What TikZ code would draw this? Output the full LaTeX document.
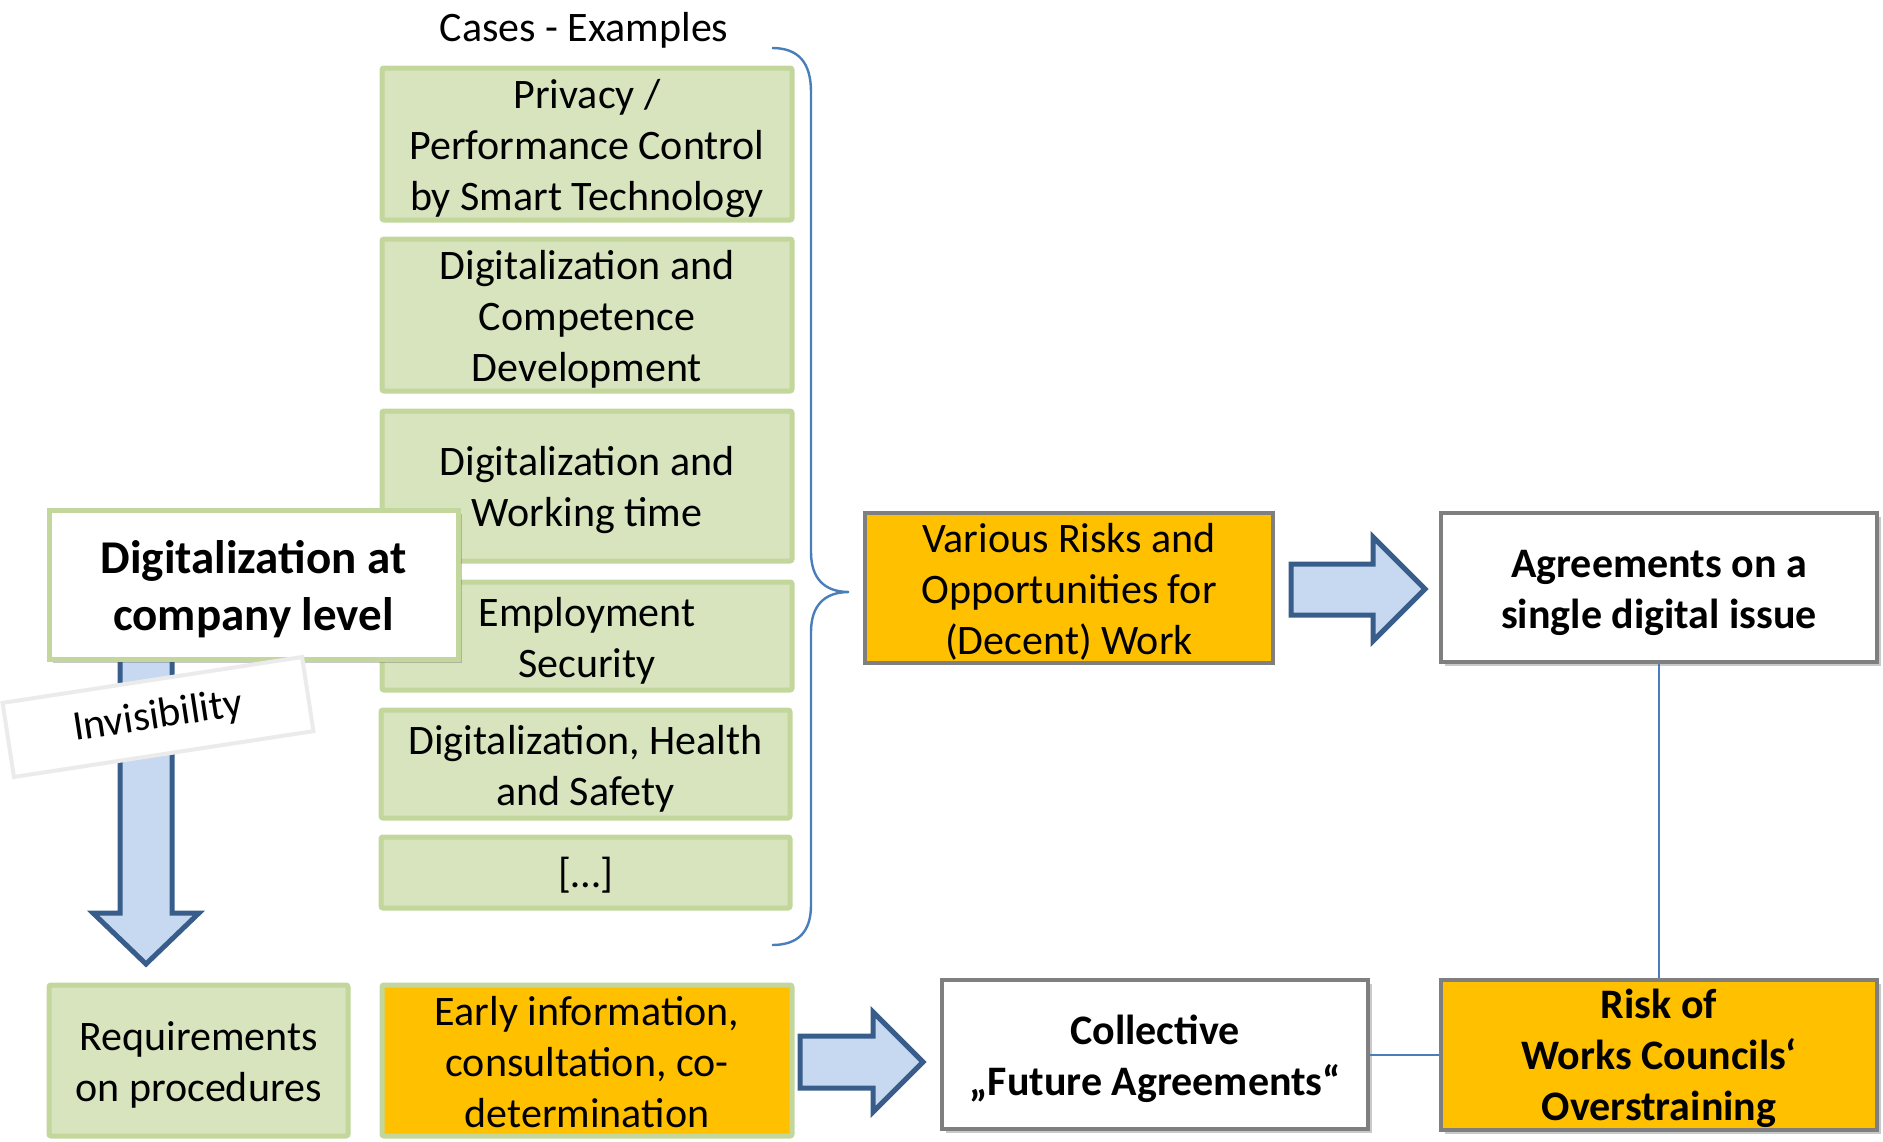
\documentclass[tikz,border=0pt]{standalone}
\usepackage{fontspec}
\setmainfont{Carlito}
\usetikzlibrary{shadows}
\definecolor{gfill}{HTML}{D7E4BD}
\definecolor{gline}{HTML}{C3D69B}
\definecolor{orng}{HTML}{FFC000}
\definecolor{grayline}{HTML}{7F7F7F}
\definecolor{afill}{HTML}{C6D9F1}
\definecolor{aline}{HTML}{385D8A}
\definecolor{bline}{HTML}{4A7EBB}
\definecolor{invline}{HTML}{EBEBEB}
\begin{document}
\begin{tikzpicture}[x=0.5pt,y=-0.5pt,
  sz/.style 2 args={minimum width=#1*0.5pt, minimum height=#2*0.5pt},
  txt/.style={font=\fontsize{21pt}{25.5pt}\selectfont, align=center, inner sep=0pt},
  btxt/.style={font=\fontsize{21pt}{25.5pt}\selectfont\bfseries, align=center, inner sep=0pt},
  shadowed/.style={drop shadow={shadow xshift=2pt, shadow yshift=-2pt, opacity=0.3, fill=black!70}},
  casebox/.style={draw=gline, fill=gfill, line width=2.5pt, rounded corners=1pt, inner sep=0pt},
  graybox/.style={draw=grayline, line width=2pt, inner sep=0pt, shadowed},
  barrow/.style={draw=aline, fill=afill, line width=2.5pt, line join=miter},
  thinline/.style={draw=bline, line width=1pt}
]
\useasboundingbox (0,0) rectangle (1883,1141);

% heading
\node[txt] (cases) at (584,30) {Cases - Examples};

% case boxes
\node[casebox, sz={410}{152}] (c1) at (587,144) {};
\node[txt] (c1t) at ([yshift=-2.4pt]c1.center) {Privacy /\\Performance Control\\by Smart Technology};
\node[casebox, sz={410}{152}] (c2) at (587,315) {};
\node[txt] (c2t) at ([yshift=-2.2pt]c2.center) {Digitalization and\\Competence\\Development};
\node[casebox, sz={410}{150}] (c3) at (587,486) {};
\node[txt] (c3t) at ([yshift=-2.2pt]c3.center) {Digitalization and\\Working time};
\node[casebox, sz={410}{108}] (c4) at (587,636) {};
\node[txt] (c4t) at ([yshift=-2.2pt]c4.center) {Employment\\Security};
\node[casebox, sz={409}{108}] (c5) at (585.5,764) {};
\node[txt] (c5t) at ([yshift=-2.2pt]c5.center) {Digitalization, Health\\and Safety};
\node[casebox, sz={409}{71}] (c6) at (585.5,872.5) {};
\node[txt] (c6t) at ([yshift=-1.5pt]c6.center) {[…]};

% brace
\coordinate (bt) at (772,48);
\coordinate (bm) at (849,592);
\coordinate (bb) at (772,945);
\draw[thinline, line width=1.2pt] (bt) .. controls (798,48) and (811,62) .. (811,92)
  -- (811,552) .. controls (811,578) and (824,592) .. (bm)
  .. controls (824,592) and (811,606) .. (811,632)
  -- (811,905) .. controls (811,932) and (798,945) .. (bb);

% down block arrow (behind the company box)
\draw[barrow] (120,600) -- (120,913) -- (93,913) -- (146,964) -- (199,913) -- (172,913) -- (172,600) -- cycle;

% company box
\node[draw=gline, fill=white, line width=2.5pt, inner sep=0pt, shadowed, sz={409}{149}] (dig) at (253.5,584.5) {};
\node[btxt, font=\fontsize{23.5pt}{28.5pt}\selectfont\bfseries] (digt) at ([yshift=-2.4pt]dig.center) {Digitalization at\\company level};

% invisibility label
\node[txt, draw=invline, fill=white, line width=2pt, rotate=8.7, sz={303}{75}] (inv) at (158,717) {Invisibility};

% risks and opportunities
\node[draw=grayline, fill=orng, line width=2pt, inner sep=0pt, sz={408}{150}] (var) at (1069,588) {};
\node[txt] (vart) at ([yshift=-2pt]var.center) {Various Risks and\\Opportunities for\\(Decent) Work};

% right block arrow
\draw[barrow] (1291,564) -- (1373,564) -- (1373,537) -- (1425,589) -- (1373,641) -- (1373,615) -- (1291,615) -- cycle;

\node[graybox, fill=white, sz={436}{149}] (agr) at (1659,587.5) {};
\node[btxt] (agrt) at ([yshift=-2.6pt]agr.center) {Agreements on a\\single digital issue};

% bottom row
\node[casebox, sz={299}{151}] (req) at (198.5,1060.5) {};
\node[txt] (reqt) at ([yshift=-2pt]req.center) {Requirements\\on procedures};
\node[draw=gline, fill=orng, line width=2.5pt, rounded corners=1pt, inner sep=0pt, sz={410}{151}] (early) at (587,1060.5) {};
\node[txt] (earlyt) at ([yshift=-0.8pt]early.center) {Early information,\\consultation, co-\\determination};

\draw[barrow] (800,1036) -- (873,1036) -- (873,1012) -- (923,1062) -- (873,1112) -- (873,1088) -- (800,1088) -- cycle;

\node[graybox, fill=white, sz={426}{149}] (coll) at (1155,1054.5) {};
\node[btxt] (collt) at ([yshift=-2pt]coll.center) {Collective\\„Future Agreements“};
\node[graybox, fill=orng, sz={436}{150}] (risk) at (1659,1054.5) {};
\node[btxt] (riskt) at ([yshift=-2pt]risk.center) {Risk of\\Works Councils‘\\Overstraining};

% connectors
\draw[thinline] (agr.south) -- (risk.north);
\draw[thinline] (coll.east) -- (risk.west);
\end{tikzpicture}
\end{document}
